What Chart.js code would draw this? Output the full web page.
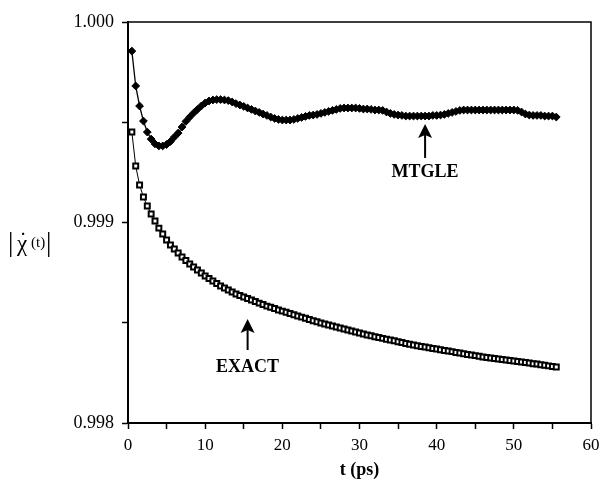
<!DOCTYPE html>
<html lang="en">
<head>
    <meta charset="UTF-8">
    <title>|χ̇(t)| vs t</title>
    <script src="https://cdn.jsdelivr.net/npm/chart.js"></script>
    <style>
        body { margin: 0; background: #fff; }
        #wrap { width: 602px; height: 486px; }
    </style>
</head>
<body>
    <div id="wrap"><canvas id="chart" width="602" height="486"></canvas></div>

    <script>
        // time grid (ps)
        const tPs = [
            0.5, 1.0, 1.5, 2.0, 2.5, 3.0, 3.5, 4.0, 4.5, 5.0,
            5.5, 6.0, 6.5, 7.0, 7.5, 8.0, 8.5, 9.0, 9.5, 10.0,
            10.5, 11.0, 11.5, 12.0, 12.5, 13.0, 13.5, 14.0, 14.5, 15.0,
            15.5, 16.0, 16.5, 17.0, 17.5, 18.0, 18.5, 19.0, 19.5, 20.0,
            20.5, 21.0, 21.5, 22.0, 22.5, 23.0, 23.5, 24.0, 24.5, 25.0,
            25.5, 26.0, 26.5, 27.0, 27.5, 28.0, 28.5, 29.0, 29.5, 30.0,
            30.5, 31.0, 31.5, 32.0, 32.5, 33.0, 33.5, 34.0, 34.5, 35.0,
            35.5, 36.0, 36.5, 37.0, 37.5, 38.0, 38.5, 39.0, 39.5, 40.0,
            40.5, 41.0, 41.5, 42.0, 42.5, 43.0, 43.5, 44.0, 44.5, 45.0,
            45.5, 46.0, 46.5, 47.0, 47.5, 48.0, 48.5, 49.0, 49.5, 50.0,
            50.5, 51.0, 51.5, 52.0, 52.5, 53.0, 53.5, 54.0, 54.5, 55.0, 55.5
        ];

        // MTGLE series (filled markers)
        const mtgle = [
            0.999855, 0.999681, 0.999581, 0.999506, 0.999451, 0.999416, 0.999392, 0.999382, 0.999382, 0.999389,
            0.999404, 0.999426, 0.999446, 0.999476, 0.999504, 0.999526, 0.999546, 0.999564, 0.999581, 0.999596,
            0.999606, 0.999611, 0.999613, 0.999613, 0.999611, 0.999608, 0.999601, 0.999593, 0.999586, 0.999579,
            0.999571, 0.999564, 0.999556, 0.999549, 0.999541, 0.999534, 0.999526, 0.999519, 0.999514, 0.999511,
            0.999511, 0.999511, 0.999514, 0.999519, 0.999524, 0.999529, 0.999534, 0.999536, 0.999539, 0.999544,
            0.999549, 0.999554, 0.999559, 0.999564, 0.999569, 0.999571, 0.999571, 0.999571, 0.999571, 0.999569,
            0.999566, 0.999566, 0.999564, 0.999561, 0.999561, 0.999559, 0.999551, 0.999544, 0.999539, 0.999536,
            0.999534, 0.999531, 0.999531, 0.999531, 0.999531, 0.999531, 0.999531, 0.999531, 0.999534, 0.999534,
            0.999536, 0.999539, 0.999544, 0.999549, 0.999554, 0.999559, 0.999561, 0.999561, 0.999561, 0.999561,
            0.999561, 0.999561, 0.999561, 0.999561, 0.999561, 0.999561, 0.999561, 0.999561, 0.999561, 0.999561,
            0.999559, 0.999551, 0.999541, 0.999536, 0.999534, 0.999534, 0.999534, 0.999531, 0.999531, 0.999531, 0.999526
        ];

        // EXACT series (open squares)
        const exact = [
            0.999451, 0.999282, 0.999187, 0.999127, 0.999082, 0.999042, 0.999007, 0.998972, 0.998943, 0.998913,
            0.998888, 0.998868, 0.998848, 0.998828, 0.998810, 0.998793, 0.998778, 0.998763, 0.998748, 0.998733,
            0.998721, 0.998708, 0.998696, 0.998683, 0.998673, 0.998663, 0.998653, 0.998643, 0.998636, 0.998628,
            0.998621, 0.998613, 0.998606, 0.998598, 0.998591, 0.998583, 0.998577, 0.998571, 0.998564, 0.998558,
            0.998552, 0.998546, 0.998540, 0.998534, 0.998528, 0.998522, 0.998516, 0.998510, 0.998505, 0.998499,
            0.998494, 0.998489, 0.998484, 0.998479, 0.998474, 0.998469, 0.998464, 0.998459, 0.998454, 0.998449,
            0.998444, 0.998439, 0.998435, 0.998430, 0.998426, 0.998422, 0.998418, 0.998414, 0.998410, 0.998405,
            0.998401, 0.998397, 0.998393, 0.998389, 0.998385, 0.998382, 0.998379, 0.998375, 0.998372, 0.998369,
            0.998365, 0.998362, 0.998359, 0.998356, 0.998352, 0.998349, 0.998345, 0.998342, 0.998339, 0.998336,
            0.998333, 0.998329, 0.998327, 0.998324, 0.998322, 0.998319, 0.998317, 0.998314, 0.998312, 0.998309,
            0.998307, 0.998304, 0.998302, 0.998299, 0.998296, 0.998294, 0.998291, 0.998288, 0.998285, 0.998282, 0.998279
        ];

        // axis ticks
        const xTickLabels = [0, 10, 20, 30, 40, 50, 60];
        const yTickLabels = [0.998, 0.999, 1.000];

        // arrow labels, placed in data units: [label, t, arrow head, arrow tail, text]
        const arrowNotes = [
            ['MTGLE', 38.5, 0.999491, 0.999322, 0.999252],
            ['EXACT', 15.5, 0.998519, 0.998364, 0.998279]
        ];

        const SERIF = '"Liberation Serif", "DejaVu Serif", serif';

        function toPoints(values) {
            return values.map((v, i) => ({ x: tPs[i], y: v }));
        }

        const decorations = {
            id: 'decorations',
            afterDraw(chart) {
                const ctx = chart.ctx;
                const area = chart.chartArea;
                const xs = chart.scales.x;
                const ys = chart.scales.y;
                ctx.save();

                // top and right frame lines
                ctx.strokeStyle = '#000';
                ctx.lineWidth = 1.5;
                ctx.beginPath();
                ctx.moveTo(area.left, area.top);
                ctx.lineTo(area.right, area.top);
                ctx.lineTo(area.right, area.bottom);
                ctx.stroke();

                // arrows with labels
                arrowNotes.forEach(([label, t, head, tail, textY]) => {
                    const x = xs.getPixelForValue(t);
                    const yh = ys.getPixelForValue(head);
                    const yt = ys.getPixelForValue(tail);
                    ctx.lineWidth = 2;
                    ctx.beginPath();
                    ctx.moveTo(x, yt);
                    ctx.lineTo(x, yh + 10);
                    ctx.stroke();
                    ctx.fillStyle = '#000';
                    ctx.beginPath();
                    ctx.moveTo(x, yh);
                    ctx.lineTo(x - 7, yh + 14);
                    ctx.lineTo(x, yh + 11);
                    ctx.lineTo(x + 7, yh + 14);
                    ctx.closePath();
                    ctx.fill();
                    ctx.font = 'bold 18px ' + SERIF;
                    ctx.textAlign = 'center';
                    ctx.textBaseline = 'middle';
                    ctx.fillText(label, x, ys.getPixelForValue(textY));
                });

                // x axis title
                ctx.font = 'bold 18px ' + SERIF;
                ctx.textAlign = 'center';
                ctx.textBaseline = 'middle';
                ctx.fillText('t (ps)', (area.left + area.right) / 2, area.bottom + 47);

                // y axis title  |χ̇(t)|  (dot drawn separately so it sits over the chi)
                const cy = (area.top + area.bottom) / 2 + 21;
                ctx.textAlign = 'left';
                ctx.font = '27px ' + SERIF;
                ctx.fillText('|', 8, cy);
                ctx.font = '23px ' + SERIF;
                ctx.fillText('\u03C7', 17, cy + 1);
                const chiW = ctx.measureText('\u03C7').width;
                ctx.textAlign = 'center';
                ctx.fillText('\u02D9', 17 + chiW / 2 + 1, cy - 2);
                ctx.textAlign = 'left';
                ctx.font = '15px ' + SERIF;
                ctx.fillText('(t)', 31, cy);
                ctx.font = '27px ' + SERIF;
                ctx.fillText('|', 46, cy);
                ctx.restore();
            }
        };

        const ctx = document.getElementById('chart').getContext('2d');
        new Chart(ctx, {
            type: 'line',
            data: {
                datasets: [
                    {
                        label: 'MTGLE',
                        data: toPoints(mtgle),
                        borderColor: '#000',
                        borderWidth: 1.3,
                        pointStyle: 'rectRot',
                        pointRadius: 3.9,
                        pointBackgroundColor: '#000',
                        pointBorderColor: '#000',
                        pointBorderWidth: 1,
                        tension: 0
                    },
                    {
                        label: 'EXACT',
                        data: toPoints(exact),
                        borderColor: '#000',
                        borderWidth: 1,
                        pointStyle: 'rect',
                        pointRadius: 3.5,
                        pointBackgroundColor: '#fff',
                        pointBorderColor: '#000',
                        pointBorderWidth: 2,
                        tension: 0
                    }
                ]
            },
            options: {
                responsive: false,
                animation: false,
                events: [],
                layout: { padding: { left: 0, right: 11, top: 22, bottom: 0 } },
                plugins: {
                    legend: { display: false },
                    tooltip: { enabled: false }
                },
                scales: {
                    x: {
                        type: 'linear',
                        min: 0,
                        max: 60,
                        border: { color: '#000', width: 2 },
                        grid: { drawOnChartArea: false, color: '#000', tickLength: 6, tickWidth: 1.5 },
                        ticks: {
                            stepSize: 5,
                            autoSkip: false,
                            maxRotation: 0,
                            padding: 6,
                            color: '#000',
                            font: { family: SERIF, size: 17 },
                            callback: v => xTickLabels.includes(v) ? String(v) : ''
                        },
                        afterFit: s => { s.height = 63; s.paddingLeft = 0; s.paddingRight = 0; }
                    },
                    y: {
                        min: 0.998,
                        max: 1.000,
                        border: { color: '#000', width: 2 },
                        grid: { drawOnChartArea: false, color: '#000', tickLength: 6, tickWidth: 1.5 },
                        ticks: {
                            stepSize: 0.0005,
                            autoSkip: false,
                            padding: 8,
                            color: '#000',
                            font: { family: SERIF, size: 18 },
                            callback: v => {
                                const hit = yTickLabels.find(l => Math.abs(l - v) < 1e-7);
                                return hit !== undefined ? hit.toFixed(3) : '';
                            }
                        },
                        afterFit: s => { s.width = 128; }
                    }
                }
            },
            plugins: [decorations]
        });
    </script>
</body>
</html>
